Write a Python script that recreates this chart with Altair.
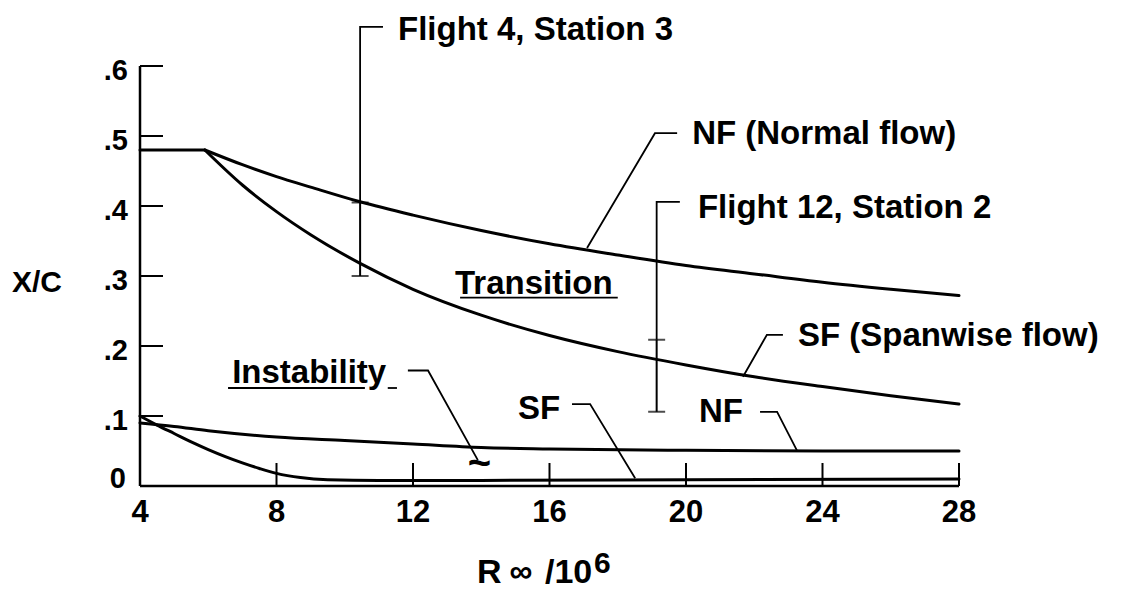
import altair as alt
import pandas as pd

# ---------------- data ----------------
# Shared flat part of the transition boundary
flat_x = [4, 5.9]
flat_y = [0.48, 0.48]
# Transition boundaries
nf_tr_x = [5.9, 7, 8, 9, 10.45, 12, 14, 16, 18, 20, 22, 24, 26, 28]
nf_tr_y = [0.48, 0.459, 0.442, 0.427, 0.406, 0.387, 0.365, 0.346, 0.33, 0.315,
           0.303, 0.291, 0.281, 0.272]
sf_tr_x = [5.9, 7, 8, 9, 10.45, 12, 14, 16, 18, 20, 22, 24, 26, 28]
sf_tr_y = [0.48, 0.43, 0.392, 0.359, 0.318, 0.281, 0.244, 0.215, 0.192, 0.173,
           0.156, 0.142, 0.129, 0.117]
# Instability boundaries
nf_in_x = [4, 5, 6, 8, 10, 12, 14, 16, 20, 24, 28]
nf_in_y = [0.09, 0.085, 0.079, 0.07, 0.065, 0.06, 0.055, 0.053, 0.051, 0.05, 0.05]
sf_in_x = [4, 4.5, 5, 5.5, 6, 6.5, 7, 7.5, 8, 8.7, 9.5, 11, 14, 20, 28]
sf_in_y = [0.10, 0.087, 0.075, 0.063, 0.052, 0.042, 0.033, 0.025, 0.018, 0.012,
           0.009, 0.008, 0.008, 0.009, 0.01]

# Flight measurement bars
bar_x = [10.45, 19.14]
bar_lo = [0.30, 0.106]
bar_hi = [0.405, 0.209]

# Leader lines (label pointers) and underlines
leaders = {
    "F4": ([10.45, 10.45, 11.12], [0.405, 0.656, 0.656]),
    "F12": ([19.14, 19.14, 19.82], [0.209, 0.406, 0.406]),
    "NFn": ([17.10, 19.09, 19.74], [0.340, 0.504, 0.504]),
    "SFs": ([21.67, 22.37, 22.84], [0.156, 0.216, 0.216]),
    "NFi": ([23.25, 22.67, 22.17], [0.051, 0.106, 0.106]),
    "SFi": ([18.51, 17.19, 16.66], [0.011, 0.117, 0.117]),
    "Inst": ([11.85, 12.44, 13.90], [0.165, 0.165, 0.037]),
    "ul1": ([6.58, 10.59], [0.140, 0.140]),
    "ul2": ([11.26, 11.53], [0.140, 0.140]),
    "ul3": ([13.38, 18.0], [0.269, 0.269]),
}

# Annotation labels
lab_left_text = ["Flight 4, Station 3", "Flight 12, Station 2", "NF (Normal flow)",
                 "SF (Spanwise flow)", "Transition", "Instability"]
lab_left_x = [11.56, 20.35, 20.18, 23.28, 13.23, 6.70]
lab_left_y = [0.652, 0.397, 0.503, 0.215, 0.288, 0.162]
lab_right_text = ["NF", "SF"]
lab_right_x = [21.67, 16.31]
lab_right_y = [0.106, 0.110]

# Axes
x_tick_vals = [4, 8, 12, 16, 20, 24, 28]
x_tick_labels = ["4", "8", "12", "16", "20", "24", "28"]
y_tick_vals = [0.1, 0.2, 0.3, 0.4, 0.5, 0.6]
y_tick_labels = [".1", ".2", ".3", ".4", ".5", ".6"]

FONT = "Liberation Sans"
xs = alt.Scale(domain=[4, 28], nice=False, zero=False)
ys = alt.Scale(domain=[0, 0.6], nice=False, zero=False)


def X(f="x"):
    return alt.X(f"{f}:Q", scale=xs, axis=None)


def Y(f="y"):
    return alt.Y(f"{f}:Q", scale=ys, axis=None)


# ---------------- build tables ----------------
crow = []
for name, xv, yv in [("flat", flat_x, flat_y), ("nf_tr", nf_tr_x, nf_tr_y),
                     ("sf_tr", sf_tr_x, sf_tr_y), ("nf_in", nf_in_x, nf_in_y),
                     ("sf_in", sf_in_x, sf_in_y)]:
    for i, (a, b) in enumerate(zip(xv, yv)):
        crow.append({"series": name, "x": a, "y": b, "ord": i})
curves_df = pd.DataFrame(crow)

lrow = []
for name, (xv, yv) in leaders.items():
    for i, (a, b) in enumerate(zip(xv, yv)):
        lrow.append({"g": name, "x": a, "y": b, "ord": i})
lead_df = pd.DataFrame(lrow)

bars_df = pd.DataFrame({"x": bar_x, "lo": bar_lo, "hi": bar_hi})
caps_df = pd.DataFrame({"x": bar_x + bar_x, "y": bar_lo + bar_hi})

# ---------------- layers ----------------
curves = alt.Chart(curves_df).mark_line(
    color="black", strokeWidth=3, interpolate="monotone", strokeCap="round"
).encode(x=X(), y=Y(), detail="series:N", order="ord:Q")

lead = alt.Chart(lead_df).mark_line(color="black", strokeWidth=1.8).encode(
    x=X(), y=Y(), detail="g:N", order="ord:Q")

bars = alt.Chart(bars_df).mark_rule(color="black", strokeWidth=2).encode(
    x=X(), y=Y("lo"), y2="hi:Q")
caps = alt.Chart(caps_df).mark_tick(
    color="black", orient="horizontal", size=17, thickness=2
).encode(x=X(), y=Y())

yaxis = alt.Chart(pd.DataFrame({"x": [4], "y": [0], "y2": [0.6]})).mark_rule(
    color="black", strokeWidth=2.5).encode(x=X(), y=Y(), y2="y2:Q")
xaxis = alt.Chart(pd.DataFrame({"x": [4], "x2": [28], "y": [0]})).mark_rule(
    color="black", strokeWidth=2.5).encode(x=X(), x2="x2:Q", y=Y())

yticks = alt.Chart(pd.DataFrame({"y": y_tick_vals})).mark_rule(
    color="black", strokeWidth=2).encode(y=Y(), x=alt.value(0), x2=alt.value(23))
xticks = alt.Chart(pd.DataFrame({"x": x_tick_vals})).mark_rule(
    color="black", strokeWidth=2).encode(x=X(), y=alt.value(420), y2=alt.value(397))

xlabels = alt.Chart(pd.DataFrame({"x": x_tick_vals, "t": x_tick_labels})).mark_text(
    font=FONT, fontSize=31, fontWeight="bold", align="center", baseline="alphabetic",
    color="black").encode(x=X(), y=alt.value(456), text="t:N")
ylabels = alt.Chart(pd.DataFrame({"y": y_tick_vals, "t": y_tick_labels})).mark_text(
    font=FONT, fontSize=29, fontWeight="bold", align="right", baseline="alphabetic",
    dy=14, color="black").encode(y=Y(), x=alt.value(-12), text="t:N")
ylabel0 = alt.Chart(pd.DataFrame({"y": [0], "t": ["0"]})).mark_text(
    font=FONT, fontSize=29, fontWeight="bold", align="right", baseline="alphabetic",
    dy=2, color="black").encode(y=Y(), x=alt.value(-14), text="t:N")

labels_l = alt.Chart(pd.DataFrame({"x": lab_left_x, "y": lab_left_y, "t": lab_left_text})).mark_text(
    font=FONT, fontSize=33, fontWeight="bold", align="left", baseline="middle",
    color="black").encode(x=X(), y=Y(), text="t:N")
labels_r = alt.Chart(pd.DataFrame({"x": lab_right_x, "y": lab_right_y, "t": lab_right_text})).mark_text(
    font=FONT, fontSize=33, fontWeight="bold", align="right", baseline="middle",
    color="black").encode(x=X(), y=Y(), text="t:N")
tilde = alt.Chart(pd.DataFrame({"x": [13.95], "y": [0.031], "t": ["~"]})).mark_text(
    font=FONT, fontSize=40, fontWeight="bold", align="center", baseline="middle",
    color="black").encode(x=X(), y=Y(), text="t:N")


def ptext(t, x, y, size, align="left", baseline="alphabetic"):
    return alt.Chart(pd.DataFrame({"t": [t]})).mark_text(
        font=FONT, fontSize=size, fontWeight="bold", align=align, baseline=baseline,
        color="black").encode(x=alt.value(x), y=alt.value(y), text="t:N")


title_y = ptext("X/C", -128, 226, 30)
title_R = ptext("R", 337, 517, 34)
title_inf = ptext("\u221e", 381, 506, 32, align="center", baseline="middle")
title_10 = ptext("/10", 405, 517, 34)
title_6 = ptext("6", 454, 507, 30)

chart = alt.layer(
    yaxis, xaxis, yticks, xticks, curves, bars, caps, lead,
    xlabels, ylabels, ylabel0, labels_l, labels_r, tilde,
    title_y, title_R, title_inf, title_10, title_6,
).properties(
    width=819, height=420,
    background="white",
    padding={"left": 132, "top": 58, "right": 150, "bottom": 104},
    autosize=alt.AutoSizeParams(type="none"),
).configure_view(strokeWidth=0)

chart.save("out.html", embed_options={"renderer": "svg", "actions": False})
